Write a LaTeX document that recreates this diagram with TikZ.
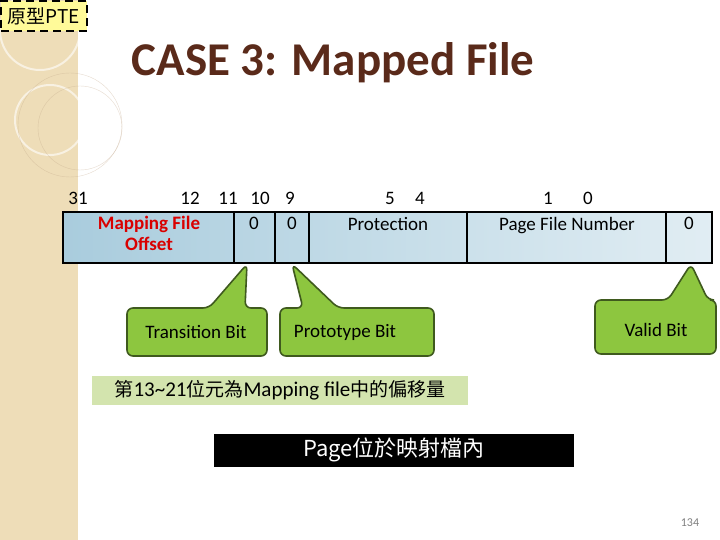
\documentclass[tikz,border=0pt]{standalone}
\usepackage{fontspec}
\setmainfont{Carlito}
\newfontfamily\cjk{Noto Sans CJK TC}
\definecolor{tan}{HTML}{EEDDB8}
\definecolor{brown}{HTML}{5A2A1A}
\definecolor{cellblue}{HTML}{A9CCDD}
\definecolor{callgreen}{HTML}{8DC63F}
\definecolor{calledge}{HTML}{3F5A1E}
\definecolor{notegreen}{HTML}{D3E4AE}
\tikzset{
 cell/.style={draw=black,line width=1.2pt,left color=cellblue,right color=cellblue!35},
 call/.style={fill=callgreen,draw=calledge,line width=1.6pt,rounded corners=6pt},
 bit/.style={font=\fontsize{19}{19}\selectfont},
 celltxt/.style={font=\fontsize{19}{19}\selectfont,anchor=north}
}
\begin{document}
\begin{tikzpicture}[x=1pt,y=-1pt]
\useasboundingbox (0,0) rectangle (720,540);
\fill[white] (0,0) rectangle (720,540);
\fill[tan] (0,0) rectangle (78,540);
\draw[white,line width=2pt,opacity=.6] (40,30) circle (40);
\draw[white,line width=2pt,opacity=.6] (50,120) circle (35);
\draw[tan!70!brown,opacity=.4] (70,125) circle (52);
\draw[tan!70!brown,opacity=.4] (80,128) circle (42);
\node[fill=yellow!40,draw=black,line width=2pt,dash pattern=on 8pt off 5pt,minimum width=86pt,minimum height=30pt,inner sep=0pt,font=\cjk\fontsize{19}{19}\selectfont] (tag) at (44,16) {原型PTE};
\node[font=\bfseries\fontsize{47}{47}\selectfont,text=brown] (title) at (333,63) {CASE 3: Mapped File};
% bit numbers
\node[bit] (b31) at (78,198) {31};
\node[bit] (b12) at (190,198) {12};
\node[bit] (b11) at (228,198) {11};
\node[bit] (b10) at (260,198) {10};
\node[bit] (b9) at (290,198) {9};
\node[bit] (b5) at (390,198) {5};
\node[bit] (b4) at (420,198) {4};
\node[bit] (b1) at (548,198) {1};
\node[bit] (b0) at (588,198) {0};
% register
\draw[cell] (63,212) rectangle (712,263);
\draw[line width=1.2pt] (234,212)--(234,263) (275,212)--(275,263) (309,212)--(309,263) (467,212)--(467,263) (666,212)--(666,263);
\node[celltxt,font=\bfseries\fontsize{19}{21}\selectfont,text=red!85!black,align=center,inner sep=2pt] (mfo) at (149,214) {Mapping File\\Offset};
\node[celltxt] (c10) at (254,214) {0};
\node[celltxt] (c9) at (292,214) {0};
\node[celltxt] (prot) at (388,214) {Protection};
\node[celltxt] (pfn) at (567,214) {Page File Number};
\node[celltxt] (c0) at (689,214) {0};
% callouts
\draw[call] (127,308) -- (209,308) -- (247,264) -- (245,308) -- (267,308) -- (267,356) -- (127,356) -- cycle;
\node[font=\fontsize{19}{19}\selectfont] (tb) at (196,332) {Transition Bit};
\draw[call] (280,308) -- (303,308) -- (292,264) -- (338,308) -- (434,308) -- (434,356) -- (280,356) -- cycle;
\node[font=\fontsize{19}{19}\selectfont] (pb) at (345,332) {Prototype Bit};
\draw[call] (595,300) -- (668,300) -- (691,264) -- (708,300) -- (716,300) -- (716,354) -- (595,354) -- cycle;
\node[font=\fontsize{19}{19}\selectfont] (vb) at (656,330) {Valid Bit};
% notes
\node[fill=notegreen,minimum width=376pt,minimum height=29pt,inner sep=0pt,font=\fontsize{21}{21}\selectfont] (note) at (280,390) {{\cjk\fontsize{19}{19}\selectfont 第}13\textasciitilde21{\cjk\fontsize{19}{19}\selectfont 位元為}Mapping file{\cjk\fontsize{19}{19}\selectfont 中的偏移量}};
\node[fill=black,text=white,minimum width=360pt,minimum height=33pt,inner sep=0pt,font=\cjk\fontsize{22}{22}\selectfont] (bar) at (394,450) {Page位於映射檔內};
\node[text=gray,font=\fontsize{12}{12}\selectfont] (pg) at (690,523) {134};
\end{tikzpicture}
\end{document}
